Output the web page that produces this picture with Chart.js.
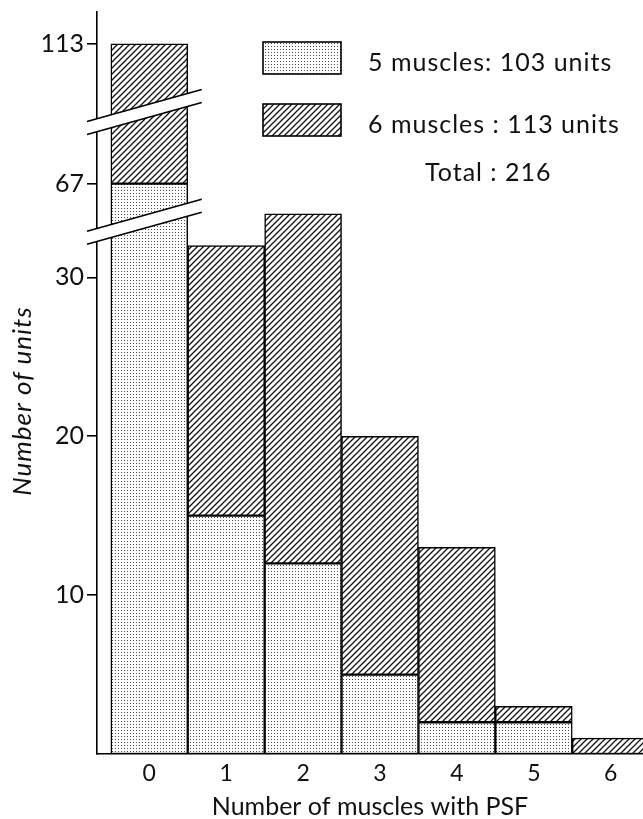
<!DOCTYPE html>
<html>
<head>
<meta charset="utf-8">
<script src="https://cdn.jsdelivr.net/npm/chart.js@4"></script>
<style>
  body { margin: 0; background: #fff; }
  canvas { display: block; }
</style>
</head>
<body>
<canvas id="chart" width="643" height="819"></canvas>
<script>
// data
const xCategories = [0, 1, 2, 3, 4, 5, 6];
const fiveMuscles = [67, 15, 12, 5, 2, 2, 0];
const sixMuscles = [46, 17, 22, 15, 11, 1, 1];
const seriesLabels = ['5 muscles: 103 units', '6 muscles : 113 units'];
const totalLabel = 'Total : 216';
const yTickValues = [10, 20, 30, 67, 113];
const xTitle = 'Number of muscles with PSF';
const yTitle = 'Number of units';

// broken y axis: values above each start are shifted down by "shift"
const segments = [
    { start: 0, shift: 0 },
    { start: 50, shift: 31.1 },
    { start: 90, shift: 68.3 },
];
const breakAt = [33.5, 40.4];   // where the break marks sit (plotted units)

function toAxis(v) {
    const seg = segments.filter(s => v >= s.start).pop();
    return v - seg.shift;
}

const FONT = 'Lato, "Open Sans", sans-serif';

function makeDots() {
    const c = document.createElement('canvas');
    c.width = 3; c.height = 3;
    const g = c.getContext('2d');
    g.fillStyle = '#fff'; g.fillRect(0, 0, 3, 3);
    g.fillStyle = '#4a4a4a'; g.fillRect(1, 1, 1, 1);
    return g.createPattern(c, 'repeat');
}

function makeHatch() {
    const s = 6;
    const c = document.createElement('canvas');
    c.width = s; c.height = s;
    const g = c.getContext('2d');
    g.fillStyle = '#fff'; g.fillRect(0, 0, s, s);
    g.strokeStyle = '#111'; g.lineWidth = 1.3;
    g.beginPath();
    g.moveTo(-1, s + 1); g.lineTo(s + 1, -1);
    g.moveTo(-1, 1); g.lineTo(1, -1);
    g.moveTo(s - 1, s + 1); g.lineTo(s + 1, s - 1);
    g.stroke();
    return g.createPattern(c, 'repeat');
}

const dots = makeDots();
const hatch = makeHatch();

const lowBars = xCategories.map((x, i) => ({ x, y: [0, toAxis(fiveMuscles[i])] }));
const highBars = xCategories.map((x, i) => {
    const lo = fiveMuscles[i], hi = fiveMuscles[i] + sixMuscles[i];
    return { x, y: [toAxis(lo), toAxis(hi)] };
});

const extras = {
    id: 'extras',
    afterDatasetsDraw(chart) {
        const { ctx, scales: { x, y } } = chart;
        // axis break marks
        const x1 = y.right - 10, x2 = x.getPixelForValue(0.5) + 14;
        const rise = 32, gap = 13;
        breakAt.forEach(b => {
            const yc = y.getPixelForValue(b);
            const a1 = yc + rise / 2 - gap / 2, a2 = yc - rise / 2 - gap / 2;
            ctx.save();
            ctx.fillStyle = '#fff';
            ctx.beginPath();
            ctx.moveTo(x1, a1); ctx.lineTo(x2, a2);
            ctx.lineTo(x2, a2 + gap); ctx.lineTo(x1, a1 + gap);
            ctx.closePath(); ctx.fill();
            ctx.strokeStyle = '#000'; ctx.lineWidth = 1.6;
            ctx.beginPath();
            ctx.moveTo(x1, a1); ctx.lineTo(x2, a2);
            ctx.moveTo(x1, a1 + gap); ctx.lineTo(x2, a2 + gap);
            ctx.stroke();
            ctx.restore();
        });

        // legend
        ctx.save();
        ctx.strokeStyle = '#000'; ctx.lineWidth = 1.6;
        ctx.letterSpacing = '1px';
        [[dots, 42], [hatch, 104]].forEach(([fill, top], i) => {
            ctx.fillStyle = fill;
            ctx.fillRect(263, top, 78, 32);
            ctx.strokeRect(263, top, 78, 32);
            ctx.fillStyle = '#111';
            ctx.font = '25px ' + FONT;
            ctx.textBaseline = 'middle';
            ctx.fillText(seriesLabels[i], 368, top + 21);
        });
        ctx.fillText(totalLabel, 425, 173);

        // y title
        ctx.translate(23, 401);
        ctx.rotate(-Math.PI / 2);
        ctx.font = 'italic 26px ' + FONT;
        ctx.textAlign = 'center';
        ctx.fillText(yTitle, 0, 0);
        ctx.restore();
    }
};

new Chart(document.getElementById('chart'), {
    type: 'bar',
    data: {
        datasets: [
            { label: seriesLabels[0], data: lowBars, backgroundColor: dots },
            { label: seriesLabels[1], data: highBars, backgroundColor: hatch },
        ]
    },
    options: {
        responsive: false,
        animation: false,
        layout: { padding: { top: 12, right: 0, left: 0, bottom: 0 } },
        datasets: {
            bar: {
                grouped: false,
                categoryPercentage: 1,
                barPercentage: 1,
                borderColor: '#000',
                borderWidth: 1.5,
                borderSkipped: false,
            }
        },
        plugins: { legend: { display: false }, tooltip: { enabled: false } },
        scales: {
            x: {
                type: 'linear',
                offset: false,
                min: -0.68,
                max: 6.42,
                afterFit: s => { s.height = 65; s.paddingLeft = 0; s.paddingRight = 0; },
                afterBuildTicks: s => { s.ticks = xCategories.map(v => ({ value: v })); },
                border: { display: true, color: '#000', width: 1.6 },
                grid: { display: false, drawTicks: false, offset: false },
                ticks: {
                    padding: 6,
                    color: '#111',
                    font: { family: FONT, size: 23 },
                    callback: v => String(v),
                },
                title: {
                    display: true,
                    text: xTitle,
                    color: '#111',
                    font: { family: FONT, size: 25, lineHeight: 1 },
                    padding: { top: 0, bottom: 0 },
                },
            },
            y: {
                min: 0,
                max: 46.7,
                afterFit: s => { s.width = 97; s.paddingTop = 0; s.paddingBottom = 0; },
                afterBuildTicks: s => { s.ticks = yTickValues.map(v => ({ value: toAxis(v) })); },
                border: { display: true, color: '#000', width: 1.6 },
                grid: { drawOnChartArea: false, drawTicks: true, tickLength: 10, color: '#000', lineWidth: 1.6 },
                ticks: {
                    padding: 3,
                    color: '#111',
                    font: { family: FONT, size: 25 },
                    callback: (v, i) => String(yTickValues[i]),
                },
            },
        }
    },
    plugins: [extras]
});
</script>
</body>
</html>
